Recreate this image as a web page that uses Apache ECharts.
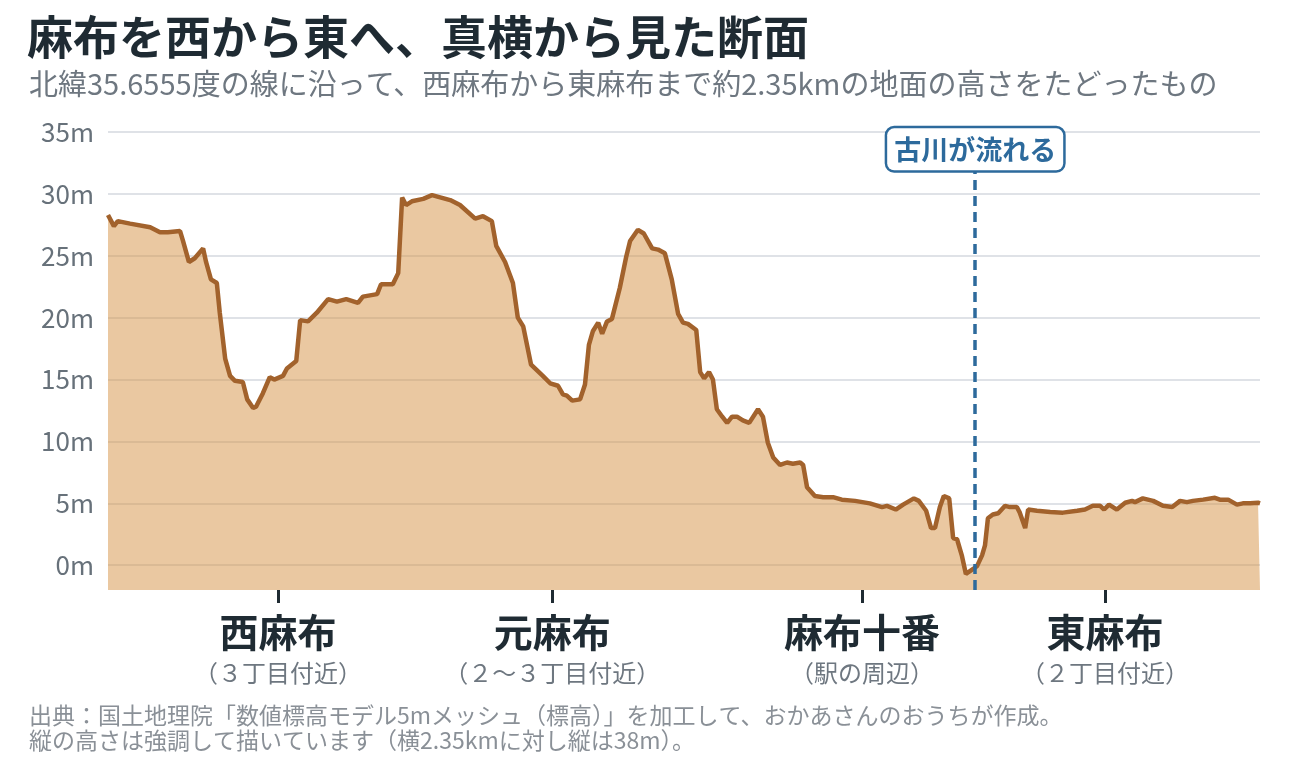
<!DOCTYPE html>
<html>
<head>
<meta charset="utf-8">
<script src="https://cdn.jsdelivr.net/npm/echarts@6/dist/echarts.min.js"></script>
<style>
html,body{margin:0;padding:0;background:#fff;}
#chart{width:1300px;height:760px;}
</style>
</head>
<body>
<div id="chart"></div>
<script>
// 西麻布→東麻布の距離（m）と標高（m）
var distArr = [0,12,20,45,86,106,122,147,153,165,177,194,200,210,222,228,239,249,259,275,284,296,302,316,330,339,357,365,384,392,408,426,449,467,486,510,520,549,557,581,592,600,608,620,643,661,698,718,749,765,783,792,810,826,836,847,863,887,902,918,928,936,947,963,973,981,989,1000,1008,1018,1028,1044,1057,1065,1081,1093,1110,1122,1136,1150,1163,1173,1183,1200,1208,1216,1226,1234,1242,1253,1263,1273,1283,1295,1308,1326,1336,1346,1357,1371,1385,1397,1412,1418,1426,1442,1459,1479,1497,1524,1554,1579,1589,1607,1622,1644,1654,1669,1679,1687,1697,1705,1716,1724,1732,1742,1750,1765,1773,1783,1789,1795,1805,1816,1830,1840,1854,1860,1871,1877,1895,1922,1948,1977,1993,2009,2024,2032,2042,2058,2075,2089,2095,2111,2132,2152,2171,2187,2201,2213,2234,2258,2268,2285,2303,2315,2330,2346,2350];
var elevArr = [28.3,27.4,27.8,27.6,27.3,26.9,26.9,27.0,26.2,24.5,24.8,25.6,24.5,23.1,22.8,20.4,16.7,15.3,14.9,14.8,13.4,12.7,12.8,13.9,15.2,15.0,15.3,15.9,16.5,19.8,19.7,20.4,21.5,21.3,21.5,21.2,21.7,21.9,22.7,22.7,23.6,29.7,29.1,29.4,29.6,29.9,29.5,29.1,28.0,28.2,27.8,25.8,24.5,22.8,20.0,19.3,16.2,15.3,14.7,14.5,13.8,13.7,13.3,13.4,14.6,17.8,18.9,19.6,18.7,19.7,19.9,22.4,24.9,26.2,27.1,26.8,25.6,25.5,25.2,23.1,20.3,19.6,19.5,19.0,15.6,15.1,15.6,15.0,12.6,12.0,11.5,12.0,12.0,11.7,11.5,12.6,12.0,9.9,8.7,8.1,8.3,8.2,8.3,8.1,6.3,5.6,5.5,5.5,5.3,5.2,5.0,4.7,4.8,4.5,4.9,5.4,5.2,4.4,3.0,3.0,4.7,5.6,5.4,2.2,2.1,0.75,-0.7,-0.3,-0.05,0.8,1.6,3.8,4.1,4.2,4.8,4.7,4.7,4.25,3.0,4.5,4.4,4.3,4.25,4.4,4.5,4.8,4.8,4.5,4.9,4.5,5.05,5.2,5.1,5.4,5.2,4.8,4.7,5.2,5.1,5.2,5.3,5.45,5.3,5.3,4.9,5.0,5.0,5.05,5.0];

// 地名ラベル
var placeDist = [347, 906, 1538, 2034];
var placeName = ['西麻布', '元麻布', '麻布十番', '東麻布'];
var placeSub = ['（３丁目付近）', '（２〜３丁目付近）', '（駅の周辺）', '（２丁目付近）'];

// 古川
var riverDist = 1769;
var riverLabel = '古川が流れる';

var yTicks = [0, 5, 10, 15, 20, 25, 30, 35];

var FONT = '"Noto Sans CJK JP", "Noto Sans", sans-serif';

var dataArr = [];
for (var i = 0; i < distArr.length; i++) {
	dataArr.push([distArr[i], elevArr[i]]);
}

var gridLines = [];
for (var i = 0; i < yTicks.length; i++) {
	gridLines.push({yAxis: yTicks[i]});
}

var option = {
	animation: false,
	textStyle: {fontFamily: FONT},
	title: [
		{text: '麻布を西から東へ、真横から見た断面', left: 22, top: 9,
			textStyle: {fontSize: 46, fontWeight: 'bold', color: '#1f2b33', fontFamily: FONT}},
		{text: '北緯35.6555度の線に沿って、西麻布から東麻布まで約2.35kmの地面の高さをたどったもの', left: 24, top: 64,
			textStyle: {fontSize: 29, fontWeight: 'normal', color: '#6e7780', fontFamily: FONT}},
		{text: '出典：国土地理院「数値標高モデル5mメッシュ（標高）」を加工して、おかあさんのおうちが作成。\n縦の高さは強調して描いています（横2.35kmに対し縦は38m）。',
			left: 24, top: 698,
			textStyle: {fontSize: 23, lineHeight: 25, fontWeight: 'normal', color: '#8a9097', fontFamily: FONT}}
	],
	grid: {left: 108, right: 40, top: 132, bottom: 170},
	xAxis: {
		type: 'value',
		min: 0,
		max: 2350,
		splitLine: {show: false},
		axisLine: {show: false, onZero: false},
		axisTick: {
			show: true,
			customValues: placeDist,
			length: 13,
			lineStyle: {color: '#1f2b33', width: 3}
		},
		axisLabel: {
			customValues: placeDist,
			margin: 19,
			formatter: function (v) {
				var k = placeDist.indexOf(v);
				if (k < 0) return '';
				return '{a|' + placeName[k] + '}\n{b|' + placeSub[k] + '}';
			},
			rich: {
				a: {fontSize: 39, fontWeight: 'bold', color: '#1f2b33', lineHeight: 46, fontFamily: FONT},
				b: {fontSize: 24, color: '#6e7780', lineHeight: 36, fontFamily: FONT}
			}
		}
	},
	yAxis: {
		type: 'value',
		min: -2,
		max: 35,
		splitLine: {show: false},
		axisLine: {show: false},
		axisTick: {show: false},
		axisLabel: {
			customValues: yTicks,
			margin: 14,
			fontSize: 26,
			color: '#67717a',
			fontFamily: FONT,
			formatter: function (v) { return v + 'm'; }
		}
	},
	series: [
		{
			// 目盛線
			type: 'line',
			z: 1,
			data: [],
			silent: true,
			markLine: {
				z: 1,
				silent: true,
				symbol: 'none',
				label: {show: false},
				lineStyle: {color: 'rgba(175,182,195,0.4)', type: 'solid', width: 2},
				data: gridLines
			}
		},
		{
			name: '標高',
			type: 'line',
			z: 2,
			data: dataArr,
			showSymbol: false,
			smooth: false,
			lineStyle: {color: '#a2622c', width: 4.5},
			areaStyle: {color: '#d6964b', opacity: 0.52, origin: 'start'},
			markLine: {
				silent: true,
				symbol: 'none',
				label: {show: false},
				lineStyle: {color: '#2d6a9c', type: [10, 6], width: 3.5},
				data: [{xAxis: riverDist}]
			},
			markPoint: {
				silent: true,
				symbol: 'rect',
				symbolSize: 0,
				label: {
					show: true,
					position: 'inside',
					formatter: riverLabel,
					fontSize: 27,
					fontWeight: 'bold',
					color: '#2d6a9c',
					backgroundColor: '#fff',
					borderColor: '#2d6a9c',
					borderWidth: 2.5,
					borderRadius: 7,
					padding: [8, 7, 7, 7],
					fontFamily: FONT
				},
				data: [{coord: [riverDist, 33.6]}]
			}
		}
	]
};

var myChart = echarts.init(document.getElementById('chart'));
myChart.setOption(option);//加载图表
</script>
</body>
</html>
